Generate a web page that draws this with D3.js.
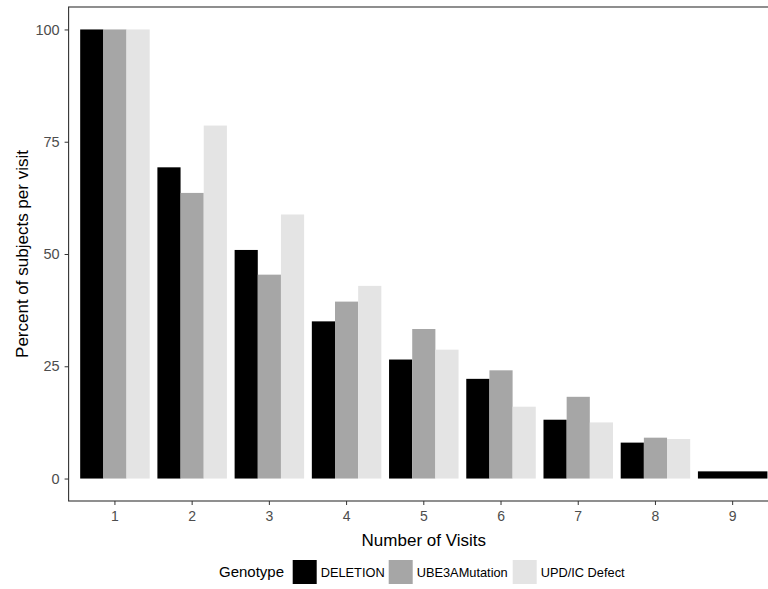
<!DOCTYPE html>
<html>
<head>
<meta charset="utf-8">
<script src="https://cdn.jsdelivr.net/npm/d3@7"></script>
<style>
  html, body { margin: 0; padding: 0; background: #fff; }
  svg { display: block; font-family: "Liberation Sans", Arial, sans-serif; }
</style>
</head>
<body>
<svg id="chart" width="768" height="589"></svg>
<script>
const visits = ["1", "2", "3", "4", "5", "6", "7", "8", "9"];
const genotypes = ["DELETION", "UBE3AMutation", "UPD/IC Defect"];
const deletion = [100, 69.3, 50.9, 35.0, 26.5, 22.2, 13.1, 8.0, 1.6];
const ube3a = [100, 63.6, 45.4, 39.4, 33.3, 24.1, 18.2, 9.1, null];
const updic = [100, 78.6, 58.8, 42.9, 28.7, 16.0, 12.5, 8.8, null];
const yTicks = [0, 25, 50, 75, 100];
const colors = ["#000000", "#a6a6a6", "#e4e4e4"];

const seriesValues = [deletion, ube3a, updic];

const svg = d3.select("#chart");
const W = 768, H = 589;
const panel = { left: 68.6, right: 779, top: 7, bottom: 501 };

const x = d3.scaleBand().domain(visits)
  .range([panel.left, panel.right])
  .paddingInner(0.1).paddingOuter(0.15);
const y = d3.scaleLinear().domain([-5, 105]).range([panel.bottom, panel.top]);
const color = d3.scaleOrdinal().domain(genotypes).range(colors);

const rows = [];
visits.forEach((v, i) => {
  const present = genotypes.filter((g, gi) => seriesValues[gi][i] != null);
  const inner = d3.scaleBand().domain(present).range([0, x.bandwidth()]);
  present.forEach(g => {
    const gi = genotypes.indexOf(g);
    rows.push({ visit: v, genotype: g, value: seriesValues[gi][i],
      x0: x(v) + inner(g), w: inner.bandwidth() });
  });
});

svg.append("rect").attr("width", W).attr("height", H).attr("fill", "#fff");

svg.append("g").selectAll("rect").data(rows).join("rect")
  .attr("x", d => d.x0)
  .attr("width", d => d.w)
  .attr("y", d => y(d.value))
  .attr("height", d => y(0) - y(d.value))
  .attr("fill", d => color(d.genotype));

svg.append("rect")
  .attr("x", panel.left).attr("y", panel.top)
  .attr("width", panel.right - panel.left).attr("height", panel.bottom - panel.top)
  .attr("fill", "none").attr("stroke", "#333").attr("stroke-width", 1.1);

const xAxis = svg.append("g").attr("transform", `translate(0,${panel.bottom})`)
  .call(d3.axisBottom(x).tickSize(4).tickPadding(6));
xAxis.select(".domain").remove();
xAxis.selectAll(".tick line").attr("stroke", "#333");
xAxis.selectAll(".tick text").attr("fill", "#4d4d4d").attr("font-size", 14)
  .attr("font-family", "Liberation Sans, Arial, sans-serif");

const yAxis = svg.append("g").attr("transform", `translate(${panel.left},0)`)
  .call(d3.axisLeft(y).tickValues(yTicks).tickSize(4).tickPadding(5));
yAxis.select(".domain").remove();
yAxis.selectAll(".tick line").attr("stroke", "#333");
yAxis.selectAll(".tick text").attr("fill", "#4d4d4d").attr("font-size", 14.5)
  .attr("font-family", "Liberation Sans, Arial, sans-serif");

svg.append("text")
  .attr("x", (panel.left + panel.right) / 2).attr("y", 546)
  .attr("text-anchor", "middle").attr("font-size", 17).attr("fill", "#000")
  .text("Number of Visits");

svg.append("text")
  .attr("transform", `translate(28,${(panel.top + panel.bottom) / 2}) rotate(-90)`)
  .attr("text-anchor", "middle").attr("font-size", 17).attr("fill", "#000")
  .text("Percent of subjects per visit");

const legend = svg.append("g");
const legY = 560, keySize = 24;
legend.append("text").attr("x", 219).attr("y", legY + 17)
  .attr("font-size", 15).attr("fill", "#000").text("Genotype");
const keyX = [292.7, 388.7, 512.7];
genotypes.forEach((g, i) => {
  legend.append("rect").attr("x", keyX[i]).attr("y", legY)
    .attr("width", keySize).attr("height", keySize)
    .attr("fill", color(g));
  legend.append("text").attr("x", keyX[i] + keySize + 4).attr("y", legY + 16.5)
    .attr("font-size", 12.8).attr("fill", "#000").text(g);
});
</script>
</body>
</html>
